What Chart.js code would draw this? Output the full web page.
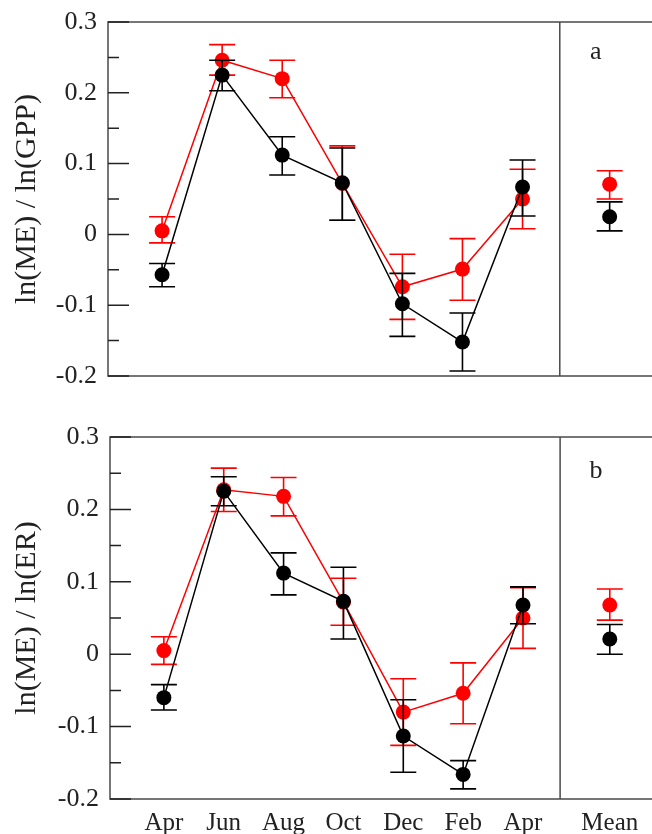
<!DOCTYPE html>
<html>
<head>
<meta charset="utf-8">
<title>ln(ME) ratios</title>
<script src="https://cdn.jsdelivr.net/npm/chart.js@4.4.0/dist/chart.umd.min.js"></script>
<style>
  html, body { margin: 0; padding: 0; background: #fff; }
  #wrap { position: relative; width: 652px; height: 834px; overflow: hidden; }
  canvas { position: absolute; left: 0; }
  #chartA { top: -5px; }
  #chartB { top: 410px; }
</style>
</head>
<body>
<div id="wrap">
  <canvas id="chartA" width="652" height="410"></canvas>
  <canvas id="chartB" width="652" height="424"></canvas>
</div>
<script>
const months = ['Apr', 'Jun', 'Aug', 'Oct', 'Dec', 'Feb', 'Apr'];
const meanLabel = 'Mean';
const yTicks = [-0.2, -0.1, 0, 0.1, 0.2, 0.3];
const yMinorTicks = [-0.15, -0.05, 0.05, 0.15, 0.25];

// panel a : ln(ME) / ln(GPP)
const gppRed = [0.005, 0.246, 0.220, 0.072, -0.074, -0.049, 0.050];
const gppRedLow = [-0.012, 0.225, 0.193, 0.020, -0.120, -0.093, 0.008];
const gppRedHigh = [0.025, 0.268, 0.246, 0.125, -0.028, -0.006, 0.092];
const gppBlack = [-0.057, 0.225, 0.112, 0.073, -0.098, -0.152, 0.067];
const gppBlackLow = [-0.074, 0.203, 0.084, 0.020, -0.144, -0.193, 0.026];
const gppBlackHigh = [-0.041, 0.246, 0.138, 0.122, -0.055, -0.111, 0.105];
const gppMeanRed = [0.071, 0.050, 0.090];    // value, low, high
const gppMeanBlack = [0.025, 0.005, 0.046];

// panel b : ln(ME) / ln(ER)
const erRed = [0.005, 0.227, 0.218, 0.072, -0.080, -0.054, 0.050];
const erRedLow = [-0.014, 0.197, 0.191, 0.040, -0.126, -0.096, 0.008];
const erRedHigh = [0.024, 0.257, 0.244, 0.105, -0.034, -0.012, 0.092];
const erBlack = [-0.060, 0.225, 0.112, 0.073, -0.113, -0.166, 0.068];
const erBlackLow = [-0.077, 0.205, 0.082, 0.021, -0.163, -0.186, 0.042];
const erBlackHigh = [-0.042, 0.245, 0.140, 0.120, -0.063, -0.147, 0.093];
const erMeanRed = [0.068, 0.047, 0.090];
const erMeanBlack = [0.021, 0.000, 0.041];

const RED = '#ff0000';
const BLACK = '#000000';
const FRAME = '#4a4a4a';
const FONT = 'Liberation Serif, Times New Roman, serif';

const MEAN_X = 7.45;     // where the Mean column sits on the x scale
const DIVIDER_X = 6.62;  // vertical line between months and Mean
const X_MIN = -0.9;
const X_MAX = 8.03;

// error bars, drawn right after each dataset so black sits over red
const errorBars = {
  id: 'errorBars',
  afterDatasetDraw(chart, args) {
    const ds = chart.data.datasets[args.index];
    if (!ds.errLow) return;
    const xs = chart.scales.x, ys = chart.scales.y;
    const ctx = chart.ctx;
    ctx.save();
    ctx.strokeStyle = ds.borderColor;
    ctx.lineWidth = 1.6;
    ds.data.forEach((p, i) => {
      const x = xs.getPixelForValue(p.x);
      const lo = ys.getPixelForValue(ds.errLow[i]);
      const hi = ys.getPixelForValue(ds.errHigh[i]);
      ctx.beginPath();
      ctx.moveTo(x, lo); ctx.lineTo(x, hi);
      ctx.moveTo(x - 13, lo); ctx.lineTo(x + 13, lo);
      ctx.moveTo(x - 13, hi); ctx.lineTo(x + 13, hi);
      ctx.stroke();
    });
    ctx.restore();
  }
};

// box, divider, inward ticks and panel letter
const frame = {
  id: 'frame',
  afterDatasetsDraw(chart, args, opts) {
    const {ctx, chartArea: a} = chart;
    const xs = chart.scales.x, ys = chart.scales.y;
    ctx.save();
    ctx.strokeStyle = FRAME;
    ctx.lineWidth = 1.5;
    ctx.beginPath();
    ctx.moveTo(chart.width, a.top); ctx.lineTo(a.left, a.top);
    ctx.lineTo(a.left, a.bottom); ctx.lineTo(chart.width, a.bottom);
    const dx = xs.getPixelForValue(DIVIDER_X);
    ctx.moveTo(dx, a.top); ctx.lineTo(dx, a.bottom);
    ctx.stroke();

    ctx.strokeStyle = '#222';
    ctx.beginPath();
    yTicks.forEach(v => {
      const y = ys.getPixelForValue(v);
      ctx.moveTo(a.left, y); ctx.lineTo(a.left + 21, y);
    });
    yMinorTicks.forEach(v => {
      const y = ys.getPixelForValue(v);
      ctx.moveTo(a.left, y); ctx.lineTo(a.left + 11, y);
    });
    ctx.stroke();

    ctx.fillStyle = '#222';
    ctx.font = '26px ' + FONT;
    ctx.textAlign = 'center';
    ctx.textBaseline = 'middle';
    ctx.fillText(opts.letter, dx + 36, a.top + opts.letterDy);
    ctx.restore();
  }
};

function seriesData(values) {
  return values.map((v, i) => ({x: i, y: v}));
}

function makePanel(id, cfg) {
  const xLabels = [...months, meanLabel];
  const xPositions = [...months.map((m, i) => i), MEAN_X];
  const ctx = document.getElementById(id).getContext('2d');
  return new Chart(ctx, {
    type: 'line',
    data: {
      datasets: [
        {
          label: 'black', data: seriesData(cfg.black), errLow: cfg.blackLow, errHigh: cfg.blackHigh,
          borderColor: BLACK, backgroundColor: BLACK, borderWidth: 1.5,
          pointRadius: 7.5, pointBorderWidth: 0, tension: 0,
        },
        {
          label: 'black mean', data: [{x: MEAN_X, y: cfg.meanBlack[0]}],
          errLow: [cfg.meanBlack[1]], errHigh: [cfg.meanBlack[2]],
          borderColor: BLACK, backgroundColor: BLACK, showLine: false,
          pointRadius: 7.5, pointBorderWidth: 0,
        },
        {
          label: 'red', data: seriesData(cfg.red), errLow: cfg.redLow, errHigh: cfg.redHigh,
          borderColor: RED, backgroundColor: RED, borderWidth: 1.5,
          pointRadius: 7.5, pointBorderWidth: 0, tension: 0,
        },
        {
          label: 'red mean', data: [{x: MEAN_X, y: cfg.meanRed[0]}],
          errLow: [cfg.meanRed[1]], errHigh: [cfg.meanRed[2]],
          borderColor: RED, backgroundColor: RED, showLine: false,
          pointRadius: 7.5, pointBorderWidth: 0,
        },
      ],
    },
    options: {
      responsive: false,
      animation: false,
      layout: { padding: { top: cfg.padTop, right: 0, bottom: 0, left: 0 } },
      plugins: {
        legend: { display: false },
        tooltip: { enabled: false },
        frame: { letter: cfg.letter, letterDy: cfg.letterDy },
      },
      scales: {
        x: {
          type: 'linear',
          min: X_MIN,
          max: X_MAX,
          grid: { display: false, drawTicks: false },
          border: { display: false },
          afterBuildTicks: axis => { axis.ticks = xPositions.map(v => ({value: v})); },
          ticks: {
            display: cfg.showX,
            autoSkip: false,
            maxRotation: 0,
            padding: 9,
            color: '#222',
            font: { family: FONT, size: 25 },
            callback: (v, i) => xLabels[i],
          },
          afterFit: s => { s.height = cfg.xHeight; },
        },
        y: {
          min: -0.2,
          max: 0.3,
          grid: { display: false, drawTicks: false },
          border: { display: false },
          afterBuildTicks: axis => { axis.ticks = yTicks.map(v => ({value: v})); },
          ticks: {
            padding: 11,
            color: '#222',
            font: { family: FONT, size: 26 },
            callback: v => String(parseFloat(v.toFixed(2))),
          },
          title: {
            display: true,
            text: cfg.title,
            color: '#222',
            font: { family: FONT, size: 30 },
            padding: { top: 9, bottom: 0 },
          },
          afterFit: s => { s.width = cfg.yWidth; },
        },
      },
    },
    plugins: [errorBars, frame],
  });
}

makePanel('chartA', {
  title: 'ln(ME) / ln(GPP)', letter: 'a', letterDy: 30,
  red: gppRed, redLow: gppRedLow, redHigh: gppRedHigh,
  black: gppBlack, blackLow: gppBlackLow, blackHigh: gppBlackHigh,
  meanRed: gppMeanRed, meanBlack: gppMeanBlack,
  padTop: 27, xHeight: 29, yWidth: 108, showX: false,
});

makePanel('chartB', {
  title: 'ln(ME) / ln(ER)', letter: 'b', letterDy: 34,
  red: erRed, redLow: erRedLow, redHigh: erRedHigh,
  black: erBlack, blackLow: erBlackLow, blackHigh: erBlackHigh,
  meanRed: erMeanRed, meanBlack: erMeanBlack,
  padTop: 27, xHeight: 35, yWidth: 110, showX: true,
});
</script>
</body>
</html>
